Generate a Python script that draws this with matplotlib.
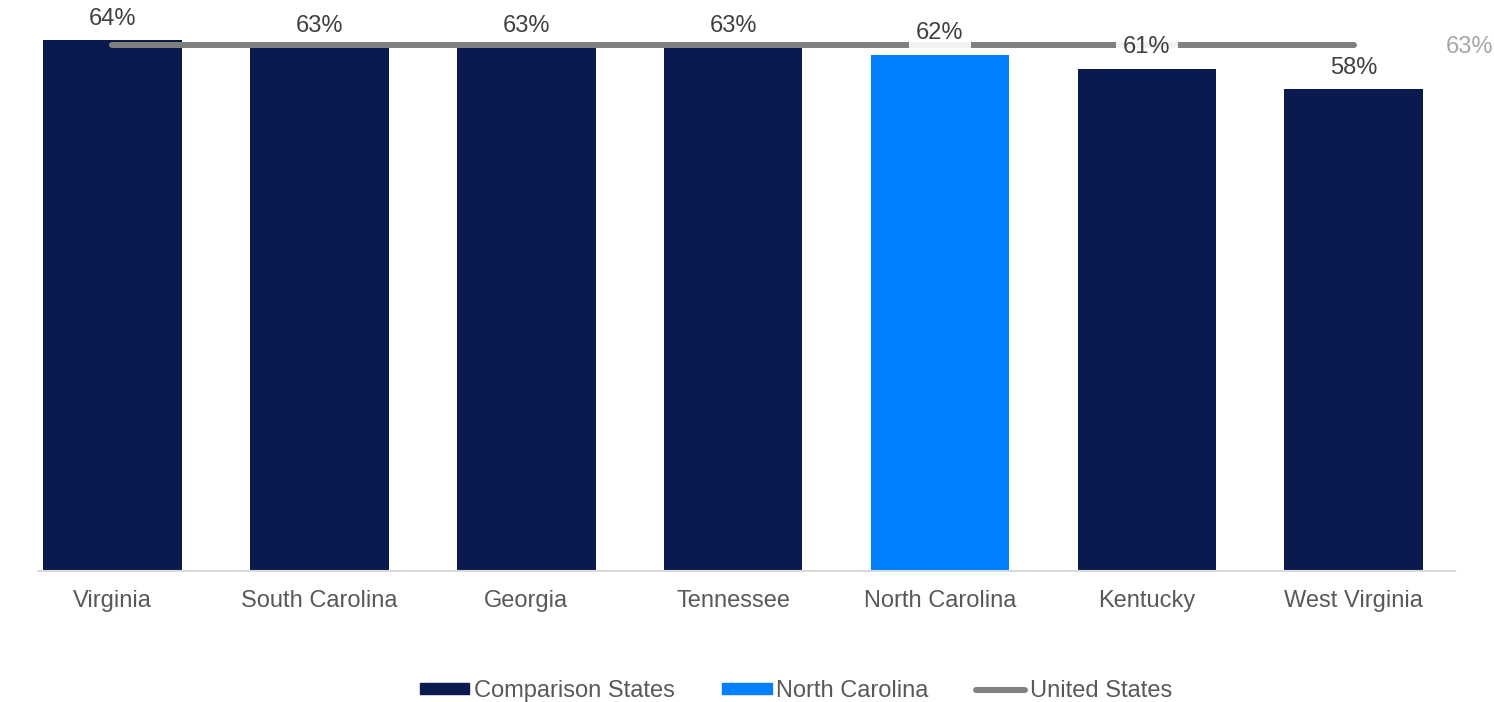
import matplotlib.pyplot as plt
from matplotlib.patches import Patch
from matplotlib.lines import Line2D

plt.rcParams['font.family'] = ['Liberation Sans', 'DejaVu Sans']

states = ['Virginia', 'South Carolina', 'Georgia', 'Tennessee',
          'North Carolina', 'Kentucky', 'West Virginia']
values = [64.2, 63.4, 63.4, 63.4, 62.5, 60.8, 58.3]
labels = ['64%', '63%', '63%', '63%', '62%', '61%', '58%']
us_value = 63.6
us_label = '63%'

DARK = '#0a1a4f'
BRIGHT = '#0080ff'
GRAY = '#808080'
FS = 17

colors = [BRIGHT if s == 'North Carolina' else DARK for s in states]
x = list(range(len(states)))

fig = plt.figure(figsize=(14.94, 7.02), dpi=100)
ax = fig.add_axes([0.0254, 0.1866, 0.9486, 0.8134])

ax.bar(x, values, width=0.67, color=colors, zorder=2)
ax.plot(x, [us_value] * len(x), color=GRAY, linewidth=4.3,
        solid_capstyle='round', zorder=3)

# labels sitting under the US line get a pale box that masks the line
for xi, v, lab in zip(x, values, labels):
    box = None
    if v < us_value - 0.5:
        box = dict(boxstyle='square,pad=0.3', fc='white', ec='none', alpha=0.9)
    ax.annotate(lab, (xi, v), xytext=(0, 15.5), textcoords='offset points',
                ha='center', va='center', fontsize=FS, color='#404040',
                annotation_clip=False, zorder=4, bbox=box)

ax.annotate(us_label, (x[-1], us_value), xytext=(66, -1),
            textcoords='offset points', ha='left', va='center',
            fontsize=FS, color='#a6a6a6', annotation_clip=False)

ax.set_xlim(-0.36, 6.49)
ax.set_ylim(0, 69.1)
ax.set_xticks(x)
ax.set_xticklabels(states, fontsize=FS, color='#595959')
ax.tick_params(axis='x', length=0, pad=14)
ax.set_yticks([])
for side in ['left', 'right', 'top']:
    ax.spines[side].set_visible(False)
ax.spines['bottom'].set_color('#d9d9d9')
ax.spines['bottom'].set_linewidth(1.5)

handles = [Patch(color=DARK), Patch(color=BRIGHT),
           Line2D([0], [0], color=GRAY, linewidth=4.3, solid_capstyle='round')]
fig.legend(handles, ['Comparison States', 'North Carolina', 'United States'],
           loc='center', bbox_to_anchor=(796 / 1494, 11 / 702), ncol=3,
           frameon=False, fontsize=FS, labelcolor='#595959', handlelength=2.1,
           handleheight=0.33, handletextpad=0.2, columnspacing=2.0)

fig.savefig('out.png', dpi=100)
